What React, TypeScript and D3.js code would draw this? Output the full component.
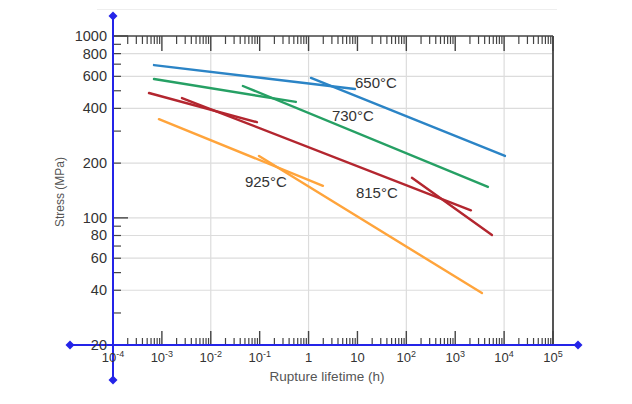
import React from "react";
import * as d3 from "d3";

// ---- data ----
const temperatures = ["650°C", "730°C", "815°C", "925°C"];
const colors = ["#2b84c6", "#26a064", "#b3262f", "#ffa43b"];
// each temperature: list of segments [[t1,S1],[t2,S2]] (rupture lifetime h, stress MPa)
const lines650: [number, number][][] = [
  [[6.9e-4, 692], [8.9, 511]],
  [[1.12, 588], [1.04e4, 219]],
];
const lines730: [number, number][][] = [
  [[6.9e-4, 580], [0.55, 434]],
  [[0.0455, 531], [4670, 148]],
];
const lines815: [number, number][][] = [
  [[5.45e-4, 486], [0.088, 336]],
  [[2.58e-3, 456], [2094, 110]],
  [[130, 166], [5640, 80.5]],
];
const lines925: [number, number][][] = [
  [[8.7e-4, 349], [1.97, 150]],
  [[0.097, 219], [3516, 38.6]],
];
const series = [lines650, lines730, lines815, lines925];
// label anchors (t, S) in data units
const labelAnchors: [number, number][] = [
  [8.9, 518],
  [3.0, 339],
  [9.3, 128.6],
  [0.05, 148.6],
];
const yTickLabels = [20, 40, 60, 80, 100, 200, 400, 600, 800, 1000];
const yGrid = [40, 60, 80, 100, 200, 400, 600, 800];
const xDecades = [-4, -3, -2, -1, 0, 1, 2, 3, 4, 5];
const xGridDecades = [-2, 0, 2, 4];

const W = 632;
const H = 404;
const L = 113, R = 553, T = 36, B = 345;

export default function App() {
  const x = d3.scaleLog().domain([1e-4, 1e5]).range([L, R]);
  const y = d3.scaleLog().domain([20, 1000]).range([B, T]);
  const line = d3
    .line<[number, number]>()
    .x((d) => x(d[0]))
    .y((d) => y(d[1]));

  const xMinor: number[] = [];
  xDecades.slice(0, -1).forEach((e) => {
    for (let k = 2; k <= 9; k++) xMinor.push(k * Math.pow(10, e));
  });
  const yMinor: number[] = [];
  [1, 2].forEach((e) => {
    for (let k = 2; k <= 9; k++) yMinor.push(k * Math.pow(10, e));
  });
  yMinor.splice(0, 1); // drop 20 (axis)

  const axisBlue = "#2424e8";
  const tickCol = "#444";
  const fmtSup = (e: number) => (e === 0 ? "1" : e === 1 ? "10" : null);

  const diamond = (cx: number, cy: number, key: string) => (
    <path
      key={key}
      d={`M${cx},${cy - 4.5}L${cx + 4.5},${cy}L${cx},${cy + 4.5}L${cx - 4.5},${cy}Z`}
      fill={axisBlue}
    />
  );

  return (
    <svg
      width={W}
      height={H}
      style={{ position: "absolute", left: 0, top: 0, background: "#fff" }}
      fontFamily="Liberation Sans, Arial, sans-serif"
    >
      <line x1={97} x2={557} y1={9.5} y2={9.5} stroke="#eee" strokeWidth={1} />
      {/* grid */}
      {yGrid.map((v) => (
        <line key={"gy" + v} x1={L} x2={R} y1={y(v)} y2={y(v)} stroke="#dcdcdc" strokeWidth={1.2} />
      ))}
      {xGridDecades.map((e) => (
        <line key={"gx" + e} x1={x(Math.pow(10, e))} x2={x(Math.pow(10, e))} y1={T} y2={B} stroke="#dcdcdc" strokeWidth={1.2} />
      ))}
      {/* right border & top */}
      <line x1={R} x2={R} y1={T} y2={B} stroke="#555" strokeWidth={2} />
      <line x1={L} x2={R} y1={T} y2={T} stroke="#444" strokeWidth={1.5} />
      {/* x ticks bottom and top */}
      {xMinor.map((v, i) => (
        <g key={"xm" + i}>
          <line x1={x(v)} x2={x(v)} y1={B} y2={B - 7} stroke={tickCol} strokeWidth={1.2} />
          <line x1={x(v)} x2={x(v)} y1={T} y2={T + 8} stroke={tickCol} strokeWidth={1.2} />
        </g>
      ))}
      {xDecades.map((e) => (
        <g key={"xM" + e}>
          <line x1={x(Math.pow(10, e))} x2={x(Math.pow(10, e))} y1={B} y2={B - 14} stroke={tickCol} strokeWidth={1.4} />
          <line x1={x(Math.pow(10, e))} x2={x(Math.pow(10, e))} y1={T} y2={T + 15} stroke={tickCol} strokeWidth={1.4} />
        </g>
      ))}
      {/* y ticks */}
      {yMinor.map((v) => (
        <line key={"ym" + v} x1={L} x2={L + 8} y1={y(v)} y2={y(v)} stroke={tickCol} strokeWidth={1.2} />
      ))}
      {[100, 1000].map((v) => (
        <line key={"yM" + v} x1={L} x2={L + 15} y1={y(v)} y2={y(v)} stroke={tickCol} strokeWidth={1.4} />
      ))}
      {/* data lines */}
      {series.map((segs, si) =>
        segs.map((seg, j) => (
          <path
            key={"s" + si + "_" + j}
            d={line(seg) || ""}
            fill="none"
            stroke={colors[si]}
            strokeWidth={2.4}
            strokeLinecap="round"
          />
        ))
      )}
      {/* temperature labels */}
      {temperatures.map((t, i) => (
        <text key={t} x={x(labelAnchors[i][0])} y={y(labelAnchors[i][1])} fontSize={15} fill="#333">
          {t}
        </text>
      ))}
      {/* blue axes */}
      <line x1={L} x2={L} y1={16} y2={380} stroke={axisBlue} strokeWidth={2} />
      <line x1={70} x2={578} y1={B} y2={B} stroke={axisBlue} strokeWidth={2} />
      {diamond(L, 16, "d1")}
      {diamond(L, 380, "d2")}
      {diamond(70, B, "d3")}
      {diamond(578, B, "d4")}
      {/* y tick labels */}
      {yTickLabels.map((v) => (
        <text key={"yl" + v} x={107} y={y(v)} dy="0.34em" textAnchor="end" fontSize={14.5} fill="#333">
          {v}
        </text>
      ))}
      {/* x tick labels */}
      {xDecades.map((e) => {
        const simple = fmtSup(e);
        return (
          <text key={"xl" + e} x={x(Math.pow(10, e))} y={362} textAnchor="middle" fontSize={13} fill="#333">
            {simple !== null ? (
              simple
            ) : (
              <>
                <tspan>10</tspan>
                <tspan fontSize={9} dy={-5}>
                  {String(e)}
                </tspan>
              </>
            )}
          </text>
        );
      })}
      {/* axis titles */}
      <text x={327} y={381} textAnchor="middle" fontSize={13.5} fill="#555">
        Rupture lifetime (h)
      </text>
      <text
        transform={`translate(64,192) rotate(-90)`}
        textAnchor="middle"
        fontSize={12}
        fill="#555"
      >
        Stress (MPa)
      </text>
    </svg>
  );
}
